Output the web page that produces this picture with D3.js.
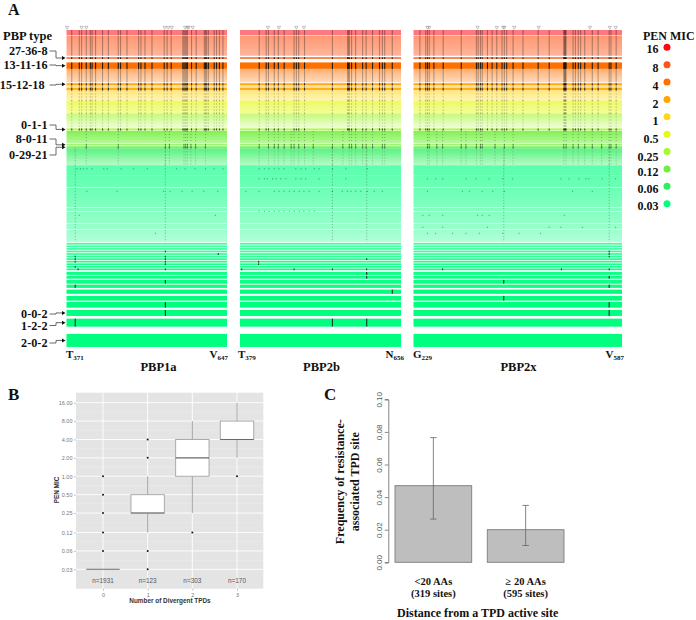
<!DOCTYPE html>
<html>
<head>
<meta charset="utf-8">
<title>PBP divergence and PEN MIC</title>
<script src="https://cdn.jsdelivr.net/npm/d3@7"></script>
<style>
  body { margin: 0; background: #fff; }
  svg { display: block; }
  text { font-family: "Liberation Serif", serif; font-weight: bold; fill: #111; }
  .sans { font-family: "Liberation Sans", sans-serif; font-weight: normal; }
</style>
</head>
<body>
<script>
// panel A: MIC legend
const micLabels = ["16", "8", "4", "2", "1", "0.5", "0.25", "0.12", "0.06", "0.03"];
const micColors = ["#ff0a14", "#ff5214", "#ff7000", "#ffa800", "#ffd81c", "#e6f81e",
                   "#a8f82e", "#70f03c", "#30f060", "#00ff7f"];

// panel A: rows of the heatmap, top to bottom (index into micLabels, isolates in the row)
const bandMic = [0, 1, 1, 2, 2, 3, 3, 3, 4, 5, 6, 6, 7, 7, 7, 8, 9, 9, 9, 9, 9, 9, 9,
                 9, 9, 9, 9, 9, 9, 9, 9, 9, 9, 9,
                 9, 9, 9, 9, 9, 9, 9, 9, 9, 9];
const bandIsolates = [40, 162, 14, 52, 108, 18, 14, 20, 80, 104, 116, 16, 100, 10, 16, 136,
                      80, 96, 156, 28, 92, 44, 100,
                      14, 14, 14, 14, 14, 14, 14, 14, 14, 14, 14,
                      24, 24, 30, 26, 34, 38, 46, 48, 64, 104];

const typeLabels = ["27-36-8", "13-11-16", "15-12-18", "0-1-1", "8-0-11", "0-29-21", "0-0-2", "1-2-2", "2-0-2"];
const typeBands = [2, 3, 5, 11, 13, 14, 41, 42, 43];

// sites
const pbp1aSites = [380, 393, 397, 405, 412, 415, 421, 433, 443, 460, 464, 475, 495, 499, 506, 518,
                    539, 544, 551, 571, 573, 575, 577, 579, 586, 594, 608, 610, 612, 615, 625, 629, 634, 640];
const pbp2bSites = [412, 424, 428, 438, 445, 455, 472, 476, 480, 490, 538, 564, 566, 567, 571, 578,
                    590, 596, 607, 619, 624, 628, 641];
const pbp2xSites = [240, 250, 253, 256, 264, 280, 311, 337, 340, 344, 347, 356, 364, 372, 381, 385, 389,
                    400, 417, 443, 462, 487, 488, 489, 490, 491, 503, 507, 512, 516, 523, 536, 546,
                    565, 568, 577];

// sites that carry on into the green rows
const pbp1aMid = [405, 460, 541, 548, 573, 576, 579, 585, 593, 610];
const pbp2bMid = [412, 428, 438, 445, 455, 467, 472, 480, 490, 505, 538, 556, 567, 571, 578, 590, 596, 607, 624, 628];
const pbp2xMid = [253, 256, 269, 279, 311, 319, 337, 344, 347, 369, 385, 400, 487, 491, 503, 512, 523, 536, 552, 565, 568, 577];

// the two long columns of the low MIC rows
const pbp1aLow = [386, 541];
const pbp2bLow = [538, 597];
const pbp2xLow = [384, 565];

// single marks: [site, row]
const pbp1aRare = [[389, 16], [395, 16], [400, 16], [406, 16], [415, 16], [435, 16], [441, 16], [465, 16], [486, 16],
                   [510, 16], [560, 16], [575, 16], [592, 16], [610, 16], [625, 16], [640, 16],
                   [406, 18], [458, 18], [538, 18], [549, 18], [570, 18], [587, 18], [607, 18], [631, 18],
                   [627, 20], [393, 20], [524, 22], [632, 27], [391, 33],
                   [541, 26], [541, 28], [541, 29], [541, 30], [541, 31], [541, 33], [386, 28], [386, 29], [386, 30],
                   [386, 32], [541, 36], [386, 37], [541, 40], [541, 41], [386, 42]];
const pbp2bRare = [[412, 16], [421, 16], [429, 16], [438, 16], [446, 16], [455, 16], [475, 16], [484, 16], [492, 16],
                   [507, 16], [515, 16], [538, 16], [561, 16], [598, 16],
                   [412, 17], [421, 17], [426, 17], [435, 17], [441, 17], [449, 17], [458, 17], [475, 17], [484, 17],
                   [492, 17], [515, 17], [561, 17],
                   [389, 18], [412, 18], [438, 18], [446, 18], [455, 18], [464, 18], [472, 18], [481, 18], [489, 18],
                   [498, 18], [515, 18], [538, 18], [555, 18], [564, 18], [570, 18], [578, 18], [587, 18], [598, 18],
                   [610, 18], [624, 18],
                   [412, 19], [421, 19], [429, 19], [438, 19], [446, 19], [455, 19], [464, 19], [472, 19], [481, 19],
                   [489, 19], [498, 19], [507, 19],
                   [411, 30], [411, 31], [597, 29], [382, 33], [472, 33], [538, 33], [597, 33], [597, 34], [597, 35],
                   [641, 38], [538, 42], [597, 42]];
const pbp2xRare = [[513, 17], [530, 17], [253, 17], [267, 17], [279, 17], [319, 17], [336, 17], [359, 17], [382, 17],
                   [399, 17], [482, 17], [496, 17], [525, 17], [553, 17], [576, 17],
                   [253, 18], [313, 18], [325, 18], [347, 18], [365, 18], [385, 18], [502, 18], [536, 18],
                   [245, 20], [256, 20], [279, 20], [339, 20], [347, 20], [359, 20], [488, 20],
                   [245, 21], [279, 21], [356, 21], [462, 21], [482, 21], [519, 21], [576, 21],
                   [253, 22], [267, 22], [296, 22], [319, 22], [342, 22], [382, 22], [410, 22], [447, 22],
                   [565, 26], [565, 27], [565, 28], [279, 33], [483, 33], [565, 33],
                   [565, 35], [384, 36], [565, 37], [384, 39], [565, 40], [565, 41]];

// open triangles above the panels
const pbp1aTriangles = [372, 397, 405, 540, 546, 552, 575, 579, 581, 588];
const pbp2bTriangles = [427, 446, 476, 489];
const pbp2xTriangles = [253, 256, 339, 372, 383, 385, 402, 444, 532, 566, 576];

// panel B: boxplot of MIC per number of divergent TPDs
const tpdCounts = [0, 1, 2, 3];
const tpdN = ["n=1931", "n=123", "n=303", "n=170"];
const boxQ1 = [0.03, 0.25, 1, 4];
const boxMedian = [0.03, 0.25, 2, 4];
const boxQ3 = [0.03, 0.5, 4, 8];
const whiskerLow = [0.03, 0.12, 0.25, 2];
const whiskerHigh = [0.03, 1, 8, 16];
const boxOutliers = [[0.06, 0.12, 0.25, 0.5, 1], [0.03, 0.06, 2, 4], [0.12], [1]];
const micTicks = [0.03, 0.06, 0.12, 0.25, 0.5, 1, 2, 4, 8, 16];

// panel C: frequency of resistance-associated sites
const distanceLabels = [["<20 AAs", "(319 sites)"], ["\u2265 20 AAs", "(595 sites)"]];
const freqValues = [0.047, 0.02];
const freqLow = [0.0265, 0.0103];
const freqHigh = [0.0765, 0.0349];
const freqTicks = [0, 0.02, 0.04, 0.06, 0.08, 0.1];

var w = 696;
var h = 620;

var svg = d3.select("body").append("svg").attr("width", w).attr("height", h);
var defs = svg.append("defs");

// the reference is a soft jpeg, so the heatmap gets a very small blur
defs.append("filter").attr("id", "soft")
    .append("feGaussianBlur").attr("stdDeviation", 0.35);

// ---------- panel A ----------

// white line after every row (px)
const rowGaps = [0.5, 1.4, 3.5, 0, 0.8, 0.7, 0, 0, 0, 0, 0.5, 0.5, 0.8, 0.8, 0, 0,
                 0, 0.5, 0.5, 0.5, 0.5, 0.5, 0.7,
                 0.8, 0.8, 0.8, 0.8, 0.8, 0.8, 0.8, 0.8, 0.8, 0.8, 1.7,
                 0.8, 1.2, 1, 1.7, 2, 1.3, 2.3, 2.7, 7.3, 0];

// how far each row fades to white, at its top and bottom
const paleTop = [0.45, 0.4, 0.2, 0, 0.45, 0.05, 0.6, 0.1, 0.42, 0.3, 0.35, 0.1, 0.1, 0.15, 0.1, 0.2,
                 0.35, 0.38, 0.42, 0.5, 0.52, 0.58, 0.6,
                 0.28, 0.26, 0.24, 0.22, 0.2, 0.18, 0.16, 0.14, 0.12, 0.1, 0.08,
                 0.05, 0.05, 0.03, 0.03, 0, 0, 0, 0, 0, 0];
const paleEnd = [0.45, 0.58, 0.2, 0, 0.75, 0.05, 0.6, 0.1, 0.68, 0.55, 0.82, 0.1, 0.5, 0.15, 0.1, 0.65,
                 0.38, 0.42, 0.5, 0.52, 0.58, 0.6, 0.7,
                 0.28, 0.26, 0.24, 0.22, 0.2, 0.18, 0.16, 0.14, 0.12, 0.1, 0.08,
                 0.05, 0.05, 0.03, 0.03, 0, 0, 0, 0, 0, 0];

// how dark the site columns are in the top rows; dashed rows look speckled
const markAlpha = [0.4, 0.33, 0.9, 0.95, 0.3, 0.85, 0.4, 0.85, 0.3, 0.35, 0.25, 0.75];
const markDashed = [8, 9, 10];

var panelTop = 30;
var isoY = d3.scaleLinear().domain([0, d3.sum(bandIsolates)]).range([0, d3.sum(bandIsolates) / 8]);
var cumIso = [0].concat(Array.from(d3.cumsum(bandIsolates)));
var cumGap = [0].concat(Array.from(d3.cumsum(rowGaps)));

function rowTop(i) { return panelTop + isoY(cumIso[i]) + cumGap[i]; }
function rowHeight(i) { return isoY(bandIsolates[i]); }

bandMic.forEach(function(mic, i) {
    var fade = d3.interpolateRgb(micColors[mic], "#fff");
    var grad = defs.append("linearGradient").attr("id", "band" + i)
                   .attr("x1", 0).attr("y1", 0).attr("x2", 0).attr("y2", 1);
    grad.append("stop").attr("offset", 0).attr("stop-color", fade(paleTop[i]));
    grad.append("stop").attr("offset", 1).attr("stop-color", fade(paleEnd[i]));
});

function drawPanel(first, last, x0, x1, sites, mid, low, rare, triangles) {
    var x = d3.scaleLinear().domain([first, last]).range([x0, x1]);
    var g = svg.append("g").attr("filter", "url(#soft)");

    g.selectAll(".row").data(bandMic).enter().append("rect")
     .attr("x", x0).attr("width", x1 - x0)
     .attr("y", function(d, i) { return rowTop(i); })
     .attr("height", function(d, i) { return rowHeight(i); })
     .attr("fill", function(d, i) { return "url(#band" + i + ")"; });

    function column(site, band, alpha, dashed) {
        g.append("line")
         .attr("x1", x(site)).attr("x2", x(site))
         .attr("y1", rowTop(band)).attr("y2", rowTop(band) + rowHeight(band))
         .attr("stroke", "#161616").attr("stroke-width", 1.1)
         .attr("stroke-opacity", alpha)
         .attr("stroke-dasharray", dashed ? "1.2 1.8" : null);
    }

    sites.forEach(function(site) {
        markAlpha.forEach(function(alpha, band) {
            column(site, band, alpha, markDashed.indexOf(band) >= 0);
        });
    });
    mid.forEach(function(site) {
        column(site, 12, 0.3, true);
        column(site, 13, 0.7, false);
        column(site, 14, 0.65, false);
        column(site, 15, 0.18, true);
    });
    low.forEach(function(site) {
        d3.range(15, 23).forEach(function(band) { column(site, band, 0.25, true); });
    });

    g.selectAll(".rare").data(rare).enter().append("rect")
     .attr("x", function(d) { return x(d[0]) - 0.55; })
     .attr("y", function(d) {
         return d[1] < 23 ? rowTop(d[1]) + 3 : rowTop(d[1]);
     })
     .attr("width", 1.1)
     .attr("height", function(d) { return d[1] < 23 ? 1.1 : rowHeight(d[1]); })
     .attr("fill", "#161616")
     .attr("fill-opacity", function(d) { return d[1] < 23 ? 0.4 : 0.85; });

    svg.selectAll(null).data(triangles).enter().append("path")
       .attr("d", d3.symbol(d3.symbolTriangle, 5))
       .attr("transform", function(d) { return "translate(" + x(d) + ",27.3) rotate(180)"; })
       .attr("fill", "none").attr("stroke", "#888").attr("stroke-width", 0.5);
}

drawPanel(371, 647, 66.5, 227, pbp1aSites, pbp1aMid, pbp1aLow, pbp1aRare, pbp1aTriangles);
drawPanel(379, 656, 240, 401, pbp2bSites, pbp2bMid, pbp2bLow, pbp2bRare, pbp2bTriangles);
drawPanel(229, 587, 413.5, 622, pbp2xSites, pbp2xMid, pbp2xLow, pbp2xRare, pbp2xTriangles);

function label(x, y, str, size, anchor) {
    return svg.append("text").attr("x", x).attr("y", y)
              .attr("font-size", size).attr("text-anchor", anchor || "start").text(str);
}

label(8, 14.5, "A", 16);
label(8, 400, "B", 17);
label(324, 400, "C", 17);
label(3, 39.5, "PBP type", 12.5);

// row labels with their arrows
const typeLabelY = [51, 65, 85, 125, 139, 155, 314, 325.5, 343];
typeLabels.forEach(function(name, i) {
    var ly = typeLabelY[i];
    var target = rowTop(typeBands[i]) + rowHeight(typeBands[i]) / 2;
    label(i === 2 ? 44.5 : 47.5, ly + 4, name, 12.2, "end");
    svg.append("path")
       .attr("d", "M49.5," + ly + "H56V" + target + "H63")
       .attr("fill", "none").attr("stroke", "#444").attr("stroke-width", 0.8);
    svg.append("path")
       .attr("d", "M62," + (target - 2) + "L65.5," + target + "L62," + (target + 2) + "Z")
       .attr("fill", "#111");
});

// end residues under the panels, with subscript numbers
const endLabels = [["T", "371", 66, "start"], ["V", "647", 228, "end"], ["T", "379", 238, "start"],
                   ["N", "656", 404, "end"], ["G", "229", 413, "start"], ["V", "587", 624, "end"]];
endLabels.forEach(function(d) {
    var t = label(d[2], 358, d[0], 11, d[3]);
    t.append("tspan").attr("font-size", 7).attr("dy", 2).text(d[1]);
});

label(158.5, 371, "PBP1a", 12.5, "middle");
label(321.5, 371, "PBP2b", 12.5, "middle");
label(518.5, 371, "PBP2x", 12.5, "middle");

// MIC legend
label(643, 40, "PEN MIC", 12);
var legendY = d3.scalePoint().domain(micLabels).range([47.3, 203.7]);
const legendNudge = [6.1, 7.3, 8, 8.7, 8.3, 9, 9.7, 7, 6.7, 6.3];
micLabels.forEach(function(m, i) {
    svg.append("circle").attr("cx", 667).attr("cy", legendY(m)).attr("r", 3.5).attr("fill", micColors[i]);
    label(658.5, legendY(m) + legendNudge[i], m, 12, "end");
});

// ---------- panel B ----------

var bLeft = 76, bRight = 263.3, bTop = 392.7, bBottom = 588.7;
var xB = d3.scalePoint().domain(tpdCounts).range([103, 237]);
var yB = d3.scaleLog().base(2).domain([0.03, 16]).range([569.3, 402.7]);
var boxW = 33.4;

svg.append("rect").attr("x", bLeft).attr("y", bTop)
   .attr("width", bRight - bLeft).attr("height", bBottom - bTop).attr("fill", "#e4e4e4");

// minor grid halfway between the ticks
svg.selectAll(null).data(d3.pairs(micTicks)).enter().append("line")
   .attr("x1", bLeft).attr("x2", bRight)
   .attr("y1", function(d) { return (yB(d[0]) + yB(d[1])) / 2; })
   .attr("y2", function(d) { return (yB(d[0]) + yB(d[1])) / 2; })
   .attr("stroke", "#efefef").attr("stroke-width", 0.5);
svg.selectAll(null).data(micTicks).enter().append("line")
   .attr("x1", bLeft).attr("x2", bRight)
   .attr("y1", function(d) { return yB(d); }).attr("y2", function(d) { return yB(d); })
   .attr("stroke", "#fff").attr("stroke-width", 0.9);
svg.selectAll(null).data(tpdCounts).enter().append("line")
   .attr("y1", bTop).attr("y2", bBottom)
   .attr("x1", function(d) { return xB(d); }).attr("x2", function(d) { return xB(d); })
   .attr("stroke", "#fff").attr("stroke-width", 0.9);

var axisLeftB = svg.append("g").attr("transform", "translate(" + bLeft + ",0)")
   .call(d3.axisLeft(yB).tickValues(micTicks).tickFormat(d3.format(".2f")).tickSize(2).tickPadding(1.5));
var axisBottomB = svg.append("g").attr("transform", "translate(0," + bBottom + ")")
   .call(d3.axisBottom(xB).tickSize(2).tickPadding(2));
[axisLeftB, axisBottomB].forEach(function(a) {
    a.select(".domain").remove();
    a.selectAll("line").attr("stroke", "#888").attr("stroke-width", 0.5);
    a.selectAll("text").attr("class", "sans").attr("font-size", 5.5).style("fill", "#777");
});

tpdCounts.forEach(function(c, i) {
    var cx = xB(c);
    svg.append("line").attr("x1", cx).attr("x2", cx)
       .attr("y1", yB(whiskerLow[i])).attr("y2", yB(whiskerHigh[i]))
       .attr("stroke", "#9a9a9a").attr("stroke-width", 0.9);
    if (boxQ3[i] > boxQ1[i]) {
        svg.append("rect").attr("x", cx - boxW / 2).attr("width", boxW)
           .attr("y", yB(boxQ3[i])).attr("height", yB(boxQ1[i]) - yB(boxQ3[i]))
           .attr("fill", "#fff").attr("stroke", "#aaa").attr("stroke-width", 1);
    }
    svg.append("line").attr("x1", cx - boxW / 2).attr("x2", cx + boxW / 2)
       .attr("y1", yB(boxMedian[i])).attr("y2", yB(boxMedian[i]))
       .attr("stroke", "#6a6a6a").attr("stroke-width", 1.1);
    svg.selectAll(null).data(boxOutliers[i]).enter().append("circle")
       .attr("cx", cx).attr("cy", function(d) { return yB(d); })
       .attr("r", 1).attr("fill", "#111");
    label(cx, 583, tpdN[i], 6.4, "middle").attr("class", "sans").style("fill", "#555");
});

label(170, 603, "Number of Divergent TPDs", 6.4, "middle")
   .style("font-family", "'Liberation Sans', sans-serif").style("fill", "#333");
label(0, 0, "PEN MIC", 6.4, "middle")
   .attr("transform", "translate(59,490) rotate(-90)")
   .style("font-family", "'Liberation Sans', sans-serif").style("fill", "#333");

// ---------- panel C ----------

var xC = d3.scaleBand().domain([0, 1]).range([395, 564]).paddingInner(0.169).paddingOuter(0);
var yC = d3.scaleLinear().domain([0, 0.1]).range([562.3, 399.3]);

svg.selectAll(null).data(freqValues).enter().append("rect")
   .attr("x", function(d, i) { return xC(i); })
   .attr("width", xC.bandwidth())
   .attr("y", function(d) { return yC(d); })
   .attr("height", function(d) { return yC(0) - yC(d); })
   .attr("fill", "#bebebe").attr("stroke", "#7c7c7c").attr("stroke-width", 0.9);

freqValues.forEach(function(d, i) {
    var cx = xC(i) + xC.bandwidth() / 2;
    var path = d3.path();
    path.moveTo(cx, yC(freqLow[i]));
    path.lineTo(cx, yC(freqHigh[i]));
    [freqLow[i], freqHigh[i]].forEach(function(v) {
        path.moveTo(cx - 3.3, yC(v));
        path.lineTo(cx + 3.3, yC(v));
    });
    svg.append("path").attr("d", path.toString())
       .attr("fill", "none").attr("stroke", "#666").attr("stroke-width", 0.8);

    label(cx, 584.5, distanceLabels[i][0], 10.5, "middle");
    label(cx, 597, distanceLabels[i][1], 10.5, "middle");
});

var axisC = svg.append("g").attr("transform", "translate(388.3,0)")
   .call(d3.axisLeft(yC).tickValues(freqTicks).tickFormat(d3.format(".2f")).tickSize(3.5).tickPadding(4));
axisC.select(".domain").attr("stroke", "#555").attr("stroke-width", 0.7);
axisC.selectAll("line").attr("stroke", "#555").attr("stroke-width", 0.7);
axisC.selectAll("text").attr("class", "sans").attr("font-size", 8).style("fill", "#555")
     .attr("text-anchor", "middle").attr("dy", null)
     .attr("transform", function() {
         return "translate(-9.5,0) rotate(-90) translate(0,3)";
     })
     .attr("x", 0).attr("y", 0);

label(0, 0, "Frequency of resistance-", 12, "middle").attr("transform", "translate(344,481.7) rotate(-90)");
label(0, 0, "associated TPD site", 12, "middle").attr("transform", "translate(359,481.7) rotate(-90)");
label(477.7, 617.3, "Distance from a TPD active site", 12, "middle");
</script>
</body>
</html>
